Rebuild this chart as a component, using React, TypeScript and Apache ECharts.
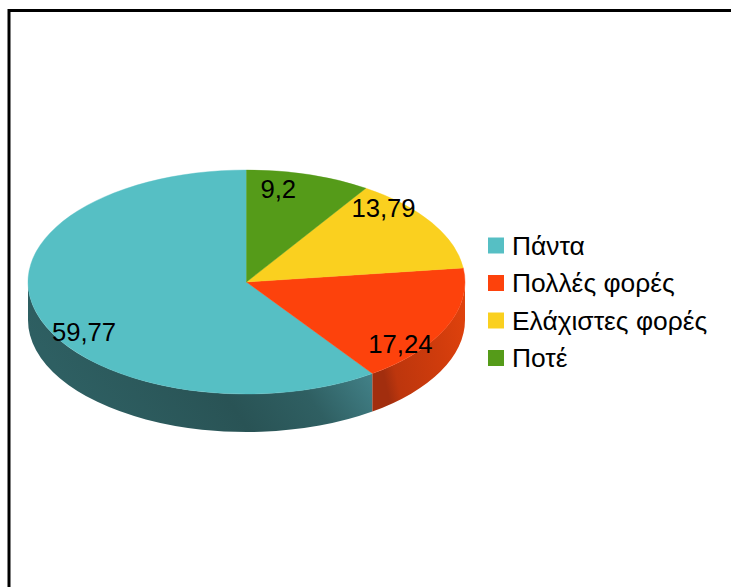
import React, { useEffect, useRef } from "react";
import * as echarts from "echarts";

const categories = ["Πάντα", "Πολλές φορές", "Ελάχιστες φορές", "Ποτέ"];
const values = [59.77, 17.24, 13.79, 9.2];
const valueLabels = ["59,77", "17,24", "13,79", "9,2"];
const colors = ["#56bfc4", "#fd420c", "#fad01f", "#559b19"];

// 3D pie geometry
const CX = 246.5;
const CY = 282;
const RX = 218.5;
const RY = 112;
const DEPTH = 38;
const FONT = "Liberation Sans";

// Where the value label sits, as a fraction of the radius along each axis
const labelFx = [0.78, 0.77, 0.74, 0.51];
const labelFy = [1.47, 1.38, 1.25, 0.87];

const wallStops = [
  [
    [0, "#2e5f62"],
    [0.4, "#295355"],
    [0.62, "#2f5f62"],
    [0.84, "#43838a"],
    [1, "#4a9196"],
  ],
  [
    [0, "#a22e0e"],
    [0.12, "#bd360d"],
    [0.6, "#d03c0c"],
    [1, "#e2430d"],
  ],
];

const total = values.reduce((a, b) => a + b, 0);

function px(t: number) {
  return CX + RX * Math.sin(t);
}
function py(t: number) {
  return CY - RY * Math.cos(t);
}

// Slices run counter-clockwise from twelve o'clock, in legend order
function sliceAngles(index: number, value: number) {
  let before = 0;
  for (let i = 0; i < index; i++) before += values[i];
  const end = (2 * Math.PI * (total - before)) / total;
  const start = end - (2 * Math.PI * value) / total;
  return [start, end];
}

function arcTo(a: number, b: number, dy: number, sweep: number) {
  const large = Math.abs(b - a) > Math.PI ? 1 : 0;
  return `A ${RX} ${RY} 0 ${large} ${sweep} ${px(b)} ${py(b) + dy}`;
}

function makeRenderItem(index: number) {
  return (_params: any, api: any) => {
    const value = api.value(0);
    const [start, end] = sliceAngles(index, value);
    const children: any[] = [];

    const wallStart = Math.max(start, Math.PI / 2);
    const wallEnd = Math.min(end, (3 * Math.PI) / 2);
    if (wallEnd > wallStart && wallStops[index]) {
      const d =
        `M ${px(wallStart)} ${py(wallStart)} ` +
        arcTo(wallStart, wallEnd, 0, 1) +
        ` L ${px(wallEnd)} ${py(wallEnd) + DEPTH} ` +
        arcTo(wallEnd, wallStart, DEPTH, 0) +
        " Z";
      const stops = wallStops[index] as [number, string][];
      // Walls read left to right on the page
      children.push({
        type: "path",
        shape: { pathData: d },
        style: {
          fill: new echarts.graphic.LinearGradient(
            0,
            0.3,
            1,
            0,
            stops.map(([offset, color]) => ({ offset, color }))
          ),
        },
      });
    }

    const top =
      `M ${CX} ${CY} L ${px(start)} ${py(start)} ` +
      arcTo(start, end, 0, 1) +
      " Z";
    children.push({
      type: "path",
      shape: { pathData: top },
      style: { fill: colors[index], stroke: colors[index], lineWidth: 0.4 },
    });

    const mid = (start + end) / 2;
    children.push({
      type: "text",
      z2: 10,
      style: {
        text: valueLabels[index],
        x: CX + RX * Math.sin(mid) * labelFx[index],
        y: CY - RY * Math.cos(mid) * labelFy[index],
        align: "center",
        verticalAlign: "middle",
        fill: "#000",
        font: `25.7px "${FONT}"`,
      },
    });

    return { type: "group", children };
  };
}

export default function App() {
  const ref = useRef<HTMLDivElement>(null);
  useEffect(() => {
    document.body.style.margin = "0";
    const chart = echarts.init(ref.current!, null, { renderer: "svg" });
    chart.setOption({
      animation: false,
      backgroundColor: "#fff",
      legend: {
        data: categories,
        orient: "vertical",
        left: 488,
        top: 232.5,
        icon: "rect",
        itemWidth: 16,
        itemHeight: 16,
        itemGap: 11.5,
        selectedMode: false,
        textStyle: {
          color: "#000",
          fontFamily: FONT,
          fontSize: 26.4,
          padding: [0, 0, 0, 3],
          height: 26,
          lineHeight: 26,
        },
        formatter: (n: string) => n,
        padding: 0,
      },
      graphic: [
        {
          type: "polyline",
          silent: true,
          shape: {
            points: [
              [9, 587],
              [9, 10.5],
              [731, 10.5],
            ],
          },
          style: { stroke: "#000", lineWidth: 3, fill: "none" },
        },
      ],
      series: categories.map((name, i) => ({
        type: "custom",
        name,
        coordinateSystem: "none",
        itemStyle: { color: colors[i] },
        data: [[values[i]]],
        renderItem: makeRenderItem(i),
      })),
    });
    return () => chart.dispose();
  }, []);
  return <div ref={ref} style={{ width: 731, height: 587 }} />;
}
